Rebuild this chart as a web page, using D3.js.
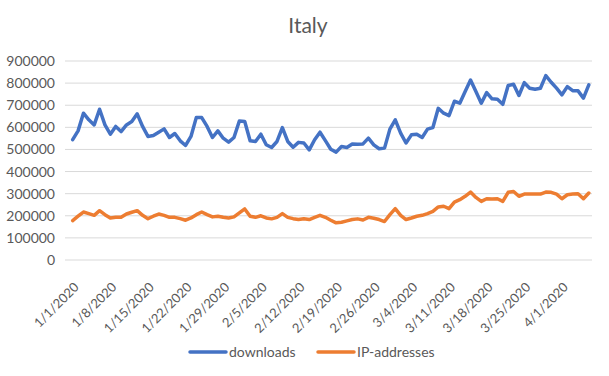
<!DOCTYPE html>
<html>
<head>
<meta charset="utf-8">
<script src="https://cdn.jsdelivr.net/npm/d3@7"></script>
<style>
    body { margin: 0; background: #fff; }
    text { font-family: Lato, "Open Sans", sans-serif; fill: #595959; }
</style>
</head>
<body>
<div id="line-chart"></div>
<script>
// Daily values, 1/1/2020 .. 4/6/2020
const downloads = [
    544000, 584000, 664000, 634000, 611000, 682000, 611000, 569000, 604000, 581000,
    611000, 626000, 661000, 604000, 559000, 563000, 578000, 593000, 554000, 572000,
    539000, 518000, 559000, 645000, 644000, 604000, 554000, 584000, 551000, 533000,
    554000, 629000, 626000, 539000, 536000, 569000, 521000, 509000, 536000, 599000,
    536000, 510000, 532000, 529000, 498000, 544000, 578000, 540000, 501000, 488000,
    513000, 509000, 525000, 524000, 525000, 551000, 521000, 503000, 506000, 592000,
    634000, 574000, 529000, 566000, 569000, 554000, 592000, 599000, 686000, 664000,
    653000, 718000, 709000, 762000, 814000, 762000, 709000, 757000, 729000, 727000,
    704000, 789000, 795000, 744000, 802000, 777000, 772000, 777000, 834000, 804000,
    777000, 747000, 784000, 766000, 765000, 732000, 792000
];
const ipAddresses = [
    178000, 198000, 217000, 210000, 202000, 223000, 205000, 190000, 193000, 193000,
    208000, 216000, 223000, 202000, 187000, 198000, 208000, 202000, 193000, 193000,
    187000, 180000, 190000, 205000, 217000, 205000, 195000, 198000, 193000, 190000,
    195000, 213000, 231000, 198000, 193000, 200000, 190000, 186000, 193000, 210000,
    193000, 187000, 183000, 187000, 183000, 193000, 202000, 193000, 180000, 168000,
    171000, 177000, 183000, 186000, 181000, 193000, 189000, 183000, 174000, 205000,
    232000, 202000, 183000, 190000, 198000, 202000, 210000, 220000, 240000, 243000,
    232000, 262000, 273000, 288000, 307000, 283000, 265000, 277000, 276000, 277000,
    265000, 306000, 310000, 288000, 298000, 298000, 298000, 298000, 307000, 306000,
    298000, 277000, 295000, 298000, 300000, 277000, 303000
];
const tickLabels = ["1/1/2020", "1/8/2020", "1/15/2020", "1/22/2020", "1/29/2020", "2/5/2020",
    "2/12/2020", "2/19/2020", "2/26/2020", "3/4/2020", "3/11/2020", "3/18/2020", "3/25/2020", "4/1/2020"];
const yTicks = [0, 100000, 200000, 300000, 400000, 500000, 600000, 700000, 800000, 900000];
const seriesNames = ["downloads", "IP-addresses"];
const seriesColors = ["#4472C4", "#ED7D31"];

const fmt = d3.timeFormat("%-m/%-d/%Y");
const dates = d3.timeDay.range(new Date(2020, 0, 1), new Date(2020, 0, 1 + downloads.length));

const width = 609, height = 376;
const plot = { left: 65, right: 592, top: 61, bottom: 260 };

const svg = d3.select("#line-chart").append("svg")
    .attr("width", width)
    .attr("height", height);

// Category scale, points sit in the middle of each day slot
const x = d3.scaleBand()
    .domain(dates.map(fmt))
    .range([70, 591.5]);
const cx = d => x(d) + x.bandwidth() / 2;

const y = d3.scaleLinear()
    .domain([0, 900000])
    .range([plot.bottom, plot.top]);

// Title
svg.append("text")
    .attr("x", 308)
    .attr("y", 33)
    .attr("text-anchor", "middle")
    .style("font-size", "21px")
    .text("Italy");

// Gridlines
svg.append("g")
    .selectAll("line")
    .data(yTicks)
    .join("line")
    .attr("x1", plot.left)
    .attr("x2", plot.right)
    .attr("y1", d => y(d))
    .attr("y2", d => y(d))
    .attr("stroke", "#d9d9d9")
    .attr("stroke-width", 1);

// Y axis labels
const yAxis = svg.append("g")
    .attr("transform", `translate(${plot.left},0)`)
    .call(d3.axisLeft(y).tickValues(yTicks).tickFormat(d3.format("d")).tickSize(0).tickPadding(10));
yAxis.select(".domain").remove();
yAxis.selectAll("text")
    .style("font-size", "14px")
    .style("fill", "#595959");

// X axis labels, rotated
const xAxis = svg.append("g")
    .attr("transform", `translate(0,${plot.bottom})`)
    .call(d3.axisBottom(x).tickValues(tickLabels).tickSize(0).tickPadding(0));
xAxis.select(".domain").remove();
xAxis.selectAll("text")
    .style("font-size", "13px")
    .style("fill", "#595959")
    .attr("text-anchor", "end")
    .attr("dy", "0")
    .attr("y", 0)
    .attr("transform", "translate(7,28) rotate(-45)");

// Lines
const series = [downloads, ipAddresses];
const line = d3.line()
    .x((d, i) => cx(fmt(dates[i])))
    .y(d => y(d));

svg.append("g")
    .selectAll("path")
    .data(series)
    .join("path")
    .attr("d", line)
    .attr("fill", "none")
    .attr("stroke", (d, i) => seriesColors[i])
    .attr("stroke-width", 3.5)
    .attr("stroke-linejoin", "round")
    .attr("stroke-linecap", "round");

// Legend
const legendX = [190, 318];
const legend = svg.append("g")
    .selectAll("g")
    .data(seriesNames)
    .join("g")
    .attr("transform", (d, i) => `translate(${legendX[i]},352)`);
legend.append("line")
    .attr("x1", 0)
    .attr("x2", 36)
    .attr("stroke", (d, i) => seriesColors[i])
    .attr("stroke-width", 3.5)
    .attr("stroke-linecap", "round");
legend.append("text")
    .attr("x", 39)
    .attr("y", 5)
    .style("font-size", "14px")
    .text(d => d);
</script>
</body>
</html>
